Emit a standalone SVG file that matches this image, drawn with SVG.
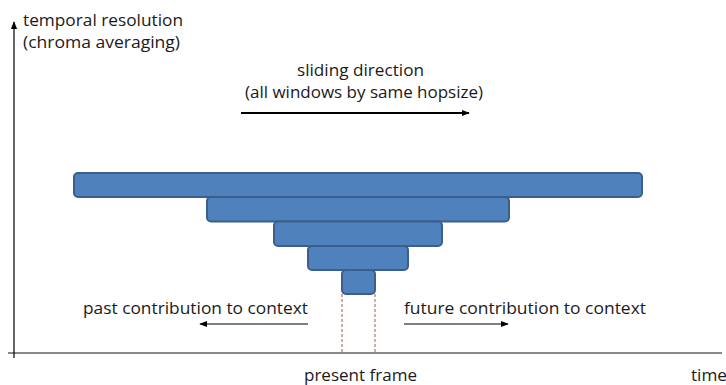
<svg xmlns="http://www.w3.org/2000/svg" width="726" height="385" viewBox="0 0 726 385">
<defs>
<style>
.t{font-family:"Open Sans","Liberation Sans",Arial,sans-serif;font-size:16.5px;fill:#1a1a1a}
.bar{fill:#4F81BD;stroke:#3A5F8C;stroke-width:2}
.ar{stroke:#000;fill:none}
.dash{stroke:#B05050;stroke-width:1;stroke-dasharray:3,2}
</style>
<marker id="ah" viewBox="0 0 10 10" refX="9" refY="5" markerWidth="8" markerHeight="8" markerUnits="userSpaceOnUse" orient="auto"><path d="M0,1 L10,5 L0,9 z" fill="#000"/></marker>
</defs>
<rect width="726" height="385" fill="#fff"/>
<g id="axes">
<line x1="8" y1="353" x2="722" y2="353" stroke="#888" stroke-width="2"/>
<line class="ar" x1="14" y1="358" x2="14" y2="22" stroke-width="1.2" marker-end="url(#ah)"/>
</g>
<g id="connectors">
<line class="ar" x1="241" y1="113" x2="469" y2="113" stroke-width="2" marker-end="url(#ah)"/>
<line class="ar" x1="308" y1="324" x2="200" y2="324" stroke-width="1" marker-end="url(#ah)"/>
<line class="ar" x1="404" y1="324" x2="508" y2="324" stroke-width="1" marker-end="url(#ah)"/>
<line class="dash" x1="342" y1="294" x2="342" y2="353"/>
<line class="dash" x1="375" y1="294" x2="375" y2="353"/>
</g>
<g id="bar1"><rect class="bar" x="74" y="173" width="568" height="24" rx="4"/></g>
<g id="bar2"><rect class="bar" x="207" y="197" width="302" height="24.5" rx="4"/></g>
<g id="bar3"><rect class="bar" x="274" y="221.5" width="168" height="24.5" rx="4"/></g>
<g id="bar4"><rect class="bar" x="308" y="246" width="100" height="24" rx="4"/></g>
<g id="bar5"><rect class="bar" x="342" y="270" width="33" height="24" rx="4"/></g>
<g id="labels">
<text class="t" x="23" y="26" textLength="160" lengthAdjust="spacingAndGlyphs">temporal resolution</text>
<text class="t" x="23" y="48" textLength="157" lengthAdjust="spacingAndGlyphs">(chroma averaging)</text>
<text class="t" x="297" y="76" textLength="127" lengthAdjust="spacingAndGlyphs">sliding direction</text>
<text class="t" x="245" y="98" textLength="238" lengthAdjust="spacingAndGlyphs">(all windows by same hopsize)</text>
<text class="t" x="83" y="314" textLength="225" lengthAdjust="spacingAndGlyphs">past contribution to context</text>
<text class="t" x="404" y="314" textLength="242" lengthAdjust="spacingAndGlyphs">future contribution to context</text>
<text class="t" x="304" y="381" textLength="113" lengthAdjust="spacingAndGlyphs">present frame</text>
<text class="t" x="691" y="381" textLength="36" lengthAdjust="spacingAndGlyphs">time</text>
</g>
</svg>
